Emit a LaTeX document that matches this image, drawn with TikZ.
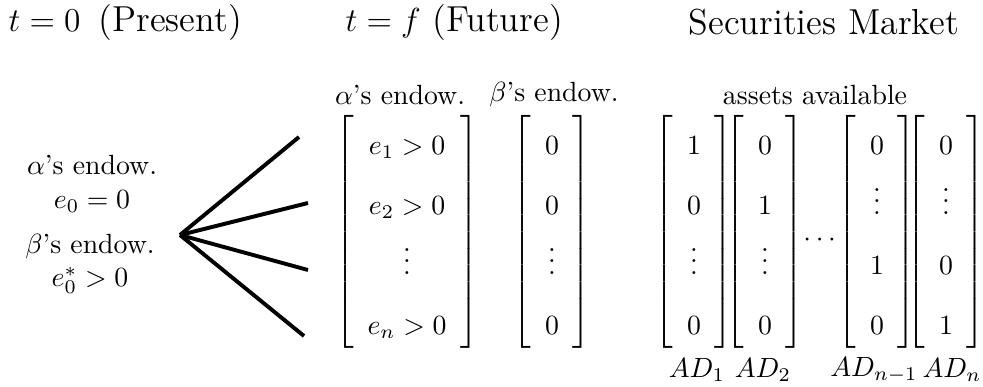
\documentclass[tikz,border=0pt]{standalone}
\usepackage{amsmath,amssymb}
\usetikzlibrary{positioning}
\newcommand{\colvec}[4]{$\renewcommand{\arraystretch}{1.8}\left[\begin{array}{c}#1\\#2\\#3\\#4\end{array}\right]$}
\newcommand{\headsize}{\fontsize{13}{16}\selectfont}

\begin{document}
\begin{tikzpicture}[x=0.36pt,y=-0.36pt,inner sep=0pt,node distance=6pt]
  \useasboundingbox (0,0) rectangle (983,387);
  \node[anchor=west] (now) at (8,22) {\headsize $t=0$\enspace(Present)};
  \node[anchor=west] (fut) at (345,22) {\headsize $t=f$\ (Future)};
  \node (mkt) at (824,22) {\headsize Securities Market};
  \node[align=center] (aend0) at (92,184) {$\alpha$'s endow.\\
  $e_0=0$};
  \node[align=center] (bend0) at (90,264) {$\beta$'s endow.\\
  $e^*_0>0$};
  \coordinate (root) at (180,235);
  \coordinate (s1) at (299,137);
  \coordinate (s2) at (308,203);
  \coordinate (s3) at (308,270);
  \coordinate (s4) at (304,336);
  \draw[line width=1.4pt] (root) -- (s1);
  \draw[line width=1.4pt] (root) -- (s2);
  \draw[line width=1.4pt] (root) -- (s3);
  \draw[line width=1.4pt] (root) -- (s4);
  \node (aend) at (407,232) {\colvec{e_1>0}{e_2>0}{\vdots}{e_n>0}};
  \node (bend) at (552,232) {\colvec{0}{0}{\vdots}{0}};
  \node (ahead) at (400,95) {$\alpha$'s endow.};
  \node (bhead) at (554,95) {$\beta$'s endow.};
  \node (ad1) at (694,232) {\colvec{1}{0}{\vdots}{0}};
  \node (ad2) at (765,232) {\colvec{0}{1}{\vdots}{0}};
  \node (adots) at (822,240) {$\cdots$};
  \node (adm) at (877,232) {\colvec{0}{\vdots}{1}{0}};
  \node (adn) at (946,232) {\colvec{0}{\vdots}{0}{1}};
  \node (assets) at (815,95) {assets available};
  \node (l1) at (697,370) {$AD_1$};
  \node (l2) at (763,370) {$AD_2$};
  \node (lm) at (874,370) {$AD_{n-1}$};
  \node (ln) at (952,370) {$AD_n$};
\end{tikzpicture}
\end{document}
